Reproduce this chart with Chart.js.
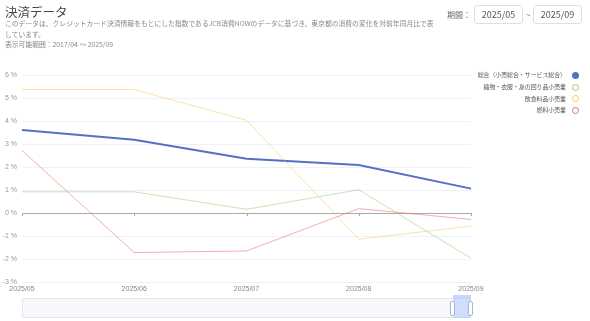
<!DOCTYPE html>
<html>
<head>
<meta charset="utf-8">
<script src="https://cdn.jsdelivr.net/npm/chart.js@4/dist/chart.umd.min.js"></script>
<style>
  body { margin: 0; width: 590px; height: 321px; overflow: hidden; background: #fff;
         font-family: "Noto Sans CJK JP", "Noto Sans", sans-serif; position: relative; }
  #title { position: absolute; left: 5px; top: 2px; font-size: 12.5px; color: #444; }
  #desc { position: absolute; left: 5px; top: 18px; font-size: 6.8px; line-height: 10.5px; color: #888; }
  #period { position: absolute; left: 447px; top: 9px; font-size: 8px; color: #666; }
  .box { position: absolute; top: 5px; width: 49px; height: 19px; border: 1px solid #dcdfe6;
         border-radius: 3px; font-size: 9px; color: #555; text-align: center; line-height: 17px; box-sizing: border-box; }
  #tilde { position: absolute; left: 526px; top: 9px; font-size: 8px; color: #777; }
  #legend { position: absolute; right: 11px; top: 69px; font-size: 5.9px; color: #555; text-align: right; }
  #legend div { height: 11.8px; line-height: 11.8px; }
  #legend span.dot { display: inline-block; width: 7px; height: 7px; border-radius: 50%; margin-left: 6px;
                     vertical-align: middle; box-sizing: border-box; }
  #wrap { position: absolute; left: 0; top: 0; width: 590px; height: 321px; }
  #slider { position: absolute; left: 22px; top: 298px; width: 449px; height: 20px; border: 1px solid #e2e7f0;
            background: #f6f8fc; border-radius: 2px; box-sizing: border-box; }
  #win { position: absolute; left: 453px; top: 298px; width: 18px; height: 20px; background: rgba(135,175,255,0.35); }
  #winTop { position: absolute; left: 453px; top: 295px; width: 18px; height: 3px; background: rgba(135,175,255,0.5); }
  .handle { position: absolute; top: 301px; width: 3px; height: 13px; background: #fff; border: 1px solid #aab6cc; border-radius: 2px; }
</style>
</head>
<body>
<div id="wrap"><canvas id="chart" width="590" height="321"></canvas></div>
<div id="title">決済データ</div>
<div id="desc">このデータは、クレジットカード決済情報をもとにした指数であるJCB消費NOWのデータに基づき、東京都の消費の変化を対前年同月比で表<br>しています。<br>表示可能範囲：2017/04 ～ 2025/09</div>
<div id="period">期間：</div>
<div class="box" style="left:474px">2025/05</div>
<div id="tilde">~</div>
<div class="box" style="left:533px">2025/09</div>
<div id="legend"></div>
<div id="slider"></div>
<div id="win"></div>
<div id="winTop"></div>
<div class="handle" style="left:450px"></div>
<div class="handle" style="left:468px"></div>
<script>
const months = ['2025/05', '2025/06', '2025/07', '2025/08', '2025/09'];
const totalIdx = [3.61, 3.18, 2.36, 2.09, 1.06];
const apparel = [0.92, 0.92, 0.16, 1.01, -1.97];
const food = [5.37, 5.37, 4.03, -1.14, -0.57];
const fuel = [2.72, -1.72, -1.65, 0.19, -0.28];
const seriesNames = ['総合（小売総合・サービス総合）', '織物・衣服・身の回り品小売業', '飲食料品小売業', '燃料小売業'];
const seriesColors = ['#5470c6', '#91cc75', '#fac858', '#ee6666'];
const yTicks = [-3, -2, -1, 0, 1, 2, 3, 4, 5, 6];

// legend in HTML, marker on the right
const legend = document.getElementById('legend');
seriesNames.forEach(function (name, i) {
  const row = document.createElement('div');
  const dot = i === 0
    ? '<span class="dot" style="background:' + seriesColors[i] + '"></span>'
    : '<span class="dot" style="border:1px solid ' + seriesColors[i] + '"></span>';
  row.innerHTML = name + dot;
  legend.appendChild(row);
});

// small ticks on the zero line
const zeroTicks = {
  id: 'zeroTicks',
  afterDatasetsDraw(chart) {
    const x = chart.scales.x, y = chart.scales.y, ctx = chart.ctx;
    const y0 = y.getPixelForValue(0);
    ctx.save();
    ctx.strokeStyle = '#aaa';
    ctx.lineWidth = 1;
    months.forEach(function (m, i) {
      const px = Math.round(x.getPixelForValue(i)) + 0.5;
      ctx.beginPath();
      ctx.moveTo(px, y0);
      ctx.lineTo(px, y0 + 3);
      ctx.stroke();
    });
    ctx.restore();
  }
};

const lineData = [totalIdx, apparel, food, fuel];
new Chart(document.getElementById('chart').getContext('2d'), {
  type: 'line',
  data: {
    labels: months,
    datasets: lineData.map(function (d, i) {
      return {
        label: seriesNames[i],
        data: d,
        borderColor: i === 0 ? seriesColors[i] : seriesColors[i] + '88',
        borderWidth: i === 0 ? 2 : 1,
        pointRadius: 0,
        tension: 0,
        order: 4 - i
      };
    })
  },
  options: {
    responsive: false,
    animation: false,
    layout: { padding: { top: 75, right: 119, bottom: 25, left: 0 } },
    plugins: { legend: { display: false }, tooltip: { enabled: false } },
    scales: {
      x: {
        offset: false,
        grid: { display: false, drawTicks: false },
        border: { display: false },
        afterFit: function (s) { s.height = 14; },
        ticks: { color: '#888', font: { size: 7 }, maxRotation: 0, padding: 3 }
      },
      y: {
        min: -3, max: 6,
        afterFit: function (s) { s.width = 22; },
        afterBuildTicks: function (s) { s.ticks = yTicks.map(function (v) { return { value: v }; }); },
        border: { display: false },
        grid: {
          drawTicks: false,
          color: function (c) { return c.tick && c.tick.value === 0 ? '#aaa' : '#eef1f7'; }
        },
        ticks: { color: '#999', font: { size: 7 }, padding: 5, callback: function (v) { return v + ' %'; } }
      }
    }
  },
  plugins: [zeroTicks]
});
</script>
</body>
</html>
